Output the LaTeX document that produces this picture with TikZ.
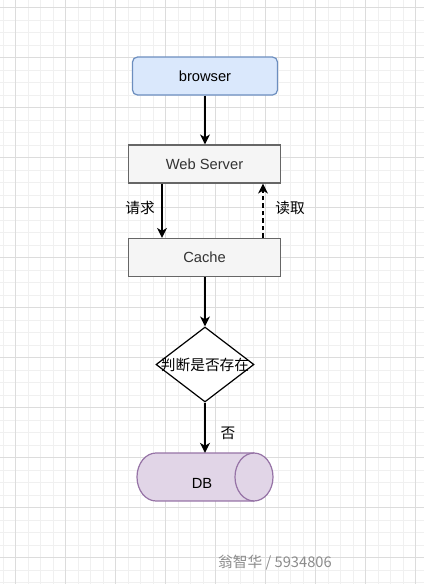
\documentclass[tikz,border=0pt]{standalone}
\usepackage{fontspec}
\setmainfont{Liberation Sans}
\newfontfamily\cjk{Noto Sans CJK SC}
\usepackage{xcolor}
\usepackage{tikz}
\usetikzlibrary{arrows.meta}
\usetikzlibrary{shapes.geometric}
\definecolor{gridmajor}{HTML}{DCDCDC}
\definecolor{gridminor}{HTML}{F0F0F0}
\definecolor{bluefill}{HTML}{DAE8FC}
\definecolor{blueline}{HTML}{6C8EBF}
\definecolor{greyfill}{HTML}{F5F5F5}
\definecolor{greyline}{HTML}{666666}
\definecolor{greytext}{HTML}{333333}
\definecolor{purplefill}{HTML}{E1D5E7}
\definecolor{purpleline}{HTML}{9673A6}
\definecolor{marktext}{HTML}{8C8C8C}

\begin{document}
\begin{tikzpicture}[x=1pt,y=-1pt,
		txt/.style={font=\fontsize{14.7}{17}\selectfont},
		serverbox/.style={txt,draw=greyline,fill=greyfill,text=greytext,line width=1.2pt,minimum width=152pt,minimum height=38pt},
		flow/.style={-{Stealth[length=10pt,width=10pt,inset=3pt]},line width=1.3pt},
		gridthin/.style={gridminor,line width=0.8pt},
		gridthick/.style={gridmajor,line width=1pt}]
		\useasboundingbox (0,0) rectangle (424,584);
		\fill[white] (0,0) rectangle (424,584);
		\foreach \k in {0,...,33} \draw[gridthin] ({3+12.5*\k},0) -- ({3+12.5*\k},584);
		\foreach \k in {1,...,47} \draw[gridthin] (0,{-5+12.5*\k}) -- (424,{-5+12.5*\k});
		\foreach \k in {0,...,8} \draw[gridthick] ({15.5+50*\k},0) -- ({15.5+50*\k},584);
		\foreach \k in {0,...,11} \draw[gridthick] (0,{7.5+50*\k}) -- (424,{7.5+50*\k});
		\node[txt,draw=blueline,fill=bluefill,line width=1.2pt,rounded corners=5pt,minimum width=145pt,minimum height=38pt] (browser) at (205,76) {browser};
		\node[serverbox] (web) at (204.5,164) {Web Server};
		\node[serverbox] (cache) at (204.5,257.5) {Cache};
		\node[diamond,draw,fill=white,line width=1.2pt,minimum width=98pt,minimum height=75pt,inner sep=0pt] (judge) at (205,364.5) {};
		\node[txt] (judgetext) at (judge) {\cjk 判断是否存在};
		\node[minimum width=137pt,minimum height=48pt,inner sep=0pt] (db) at (205,477) {};
		\fill[purplefill] (156,453) rectangle (254,501);
		\fill[purplefill] (156,477) ellipse [x radius=19,y radius=24];
		\fill[purplefill] (254,477) ellipse [x radius=19,y radius=24];
		\draw[purpleline,line width=1.2pt] (254,501) -- (156,501) arc [start angle=90,end angle=270,x radius=19,y radius=24] -- (254,453);
		\draw[purpleline,line width=1.2pt] (254,477) ellipse [x radius=19,y radius=24];
		\node[txt] (dbtext) at (202,483) {DB};
		\node[txt] (ask) at (140,208) {\cjk 请求};
		\node[txt] (fetch) at (290,208) {\cjk 读取};
		\node[txt] (no) at (228,433) {\cjk 否};
		\node[txt,text=marktext,anchor=west,inner sep=0pt] (mark) at (218,563) {\cjk 翁智华 / 5934806};
		\draw[flow] (browser.south) -- (browser.south |- web.north);
		\draw[flow] ([xshift=-42.5pt]web.south) -- ([xshift=-42.5pt]cache.north);
		\draw[flow,dash pattern=on 4.5pt off 3pt] ([xshift=58.5pt]cache.north) -- ([xshift=58.5pt]web.south);
		\draw[flow] (cache.south -| judge.north) -- (judge.north);
		\draw[flow] (judge.south) -- (judge.south |- db.north);
	\end{tikzpicture}
\end{document}
